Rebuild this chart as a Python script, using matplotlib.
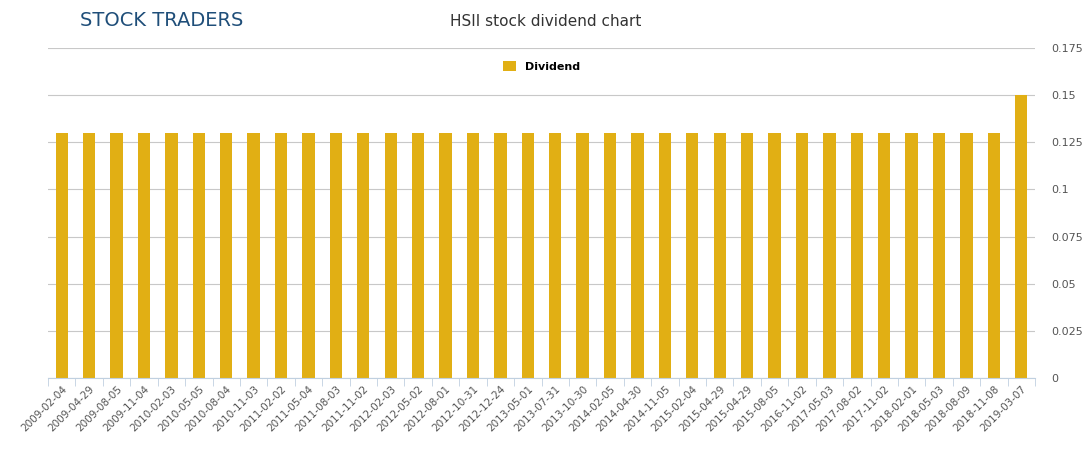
import matplotlib
matplotlib.use("Agg")
import matplotlib.pyplot as plt

dates = ["2009-02-04","2009-04-29","2009-08-05","2009-11-04","2010-02-03","2010-05-05","2010-08-04","2010-11-03",
         "2011-02-02","2011-05-04","2011-08-03","2011-11-02","2012-02-03","2012-05-02","2012-08-01","2012-10-31",
         "2012-12-24","2013-05-01","2013-07-31","2013-10-30","2014-02-05","2014-04-30","2014-11-05","2015-02-04",
         "2015-04-29","2015-04-29","2015-08-05","2016-11-02","2017-05-03","2017-08-02","2017-11-02","2018-02-01",
         "2018-05-03","2018-08-09","2018-11-08","2019-03-07"]
dividends = [0.13]*35 + [0.15]
yticks = [0, 0.025, 0.05, 0.075, 0.1, 0.125, 0.15, 0.175]
ytick_labels = ["0","0.025","0.05","0.075","0.1","0.125","0.15","0.175"]

fig = plt.figure(figsize=(10.91, 4.5), dpi=100)
ax = fig.add_axes([48/1091, 1-378/450, (1035-48)/1091, (378-48)/450])
x = list(range(len(dates)))
ax.bar(x, dividends, width=0.45, color="#E1AF14", label="Dividend", zorder=2)
ax.set_xlim(-0.5, len(dates)-0.5)
ax.set_ylim(0, 0.175)
ax.set_yticks(yticks)
ax.set_yticklabels(ytick_labels)
ax.yaxis.tick_right()
ax.tick_params(axis="y", length=0, labelsize=8, colors="#555555", pad=12)
ax.grid(axis="y", color="#C8C8C8", linewidth=0.8, zorder=0)
ax.set_xticks([i - 0.5 for i in range(len(dates)+1)], minor=True)
ax.set_xticks(x)
ax.set_xticklabels(dates, rotation=45, ha="right", rotation_mode="anchor", fontsize=7.5, color="#555555")
ax.tick_params(axis="x", which="major", length=0, pad=4)
ax.tick_params(axis="x", which="minor", length=6, color="#C0D0E0")
for s in ["top", "right", "left"]:
    ax.spines[s].set_visible(False)
ax.spines["bottom"].set_color("#C0D0E0")
leg = ax.legend(loc="upper center", bbox_to_anchor=(0.5, 0.99), frameon=False, fontsize=8,
                handlelength=1.2, handleheight=1.0, prop={"weight": "bold", "size": 8})
fig.text(0.5, 1-22/450, "HSII stock dividend chart", ha="center", va="center", fontsize=11, color="#333333")
fig.text(80/1091, 1-20/450, "STOCK TRADERS", ha="left", va="center", fontsize=14, color="#1F4E79")
fig.savefig("out.png", dpi=100)
